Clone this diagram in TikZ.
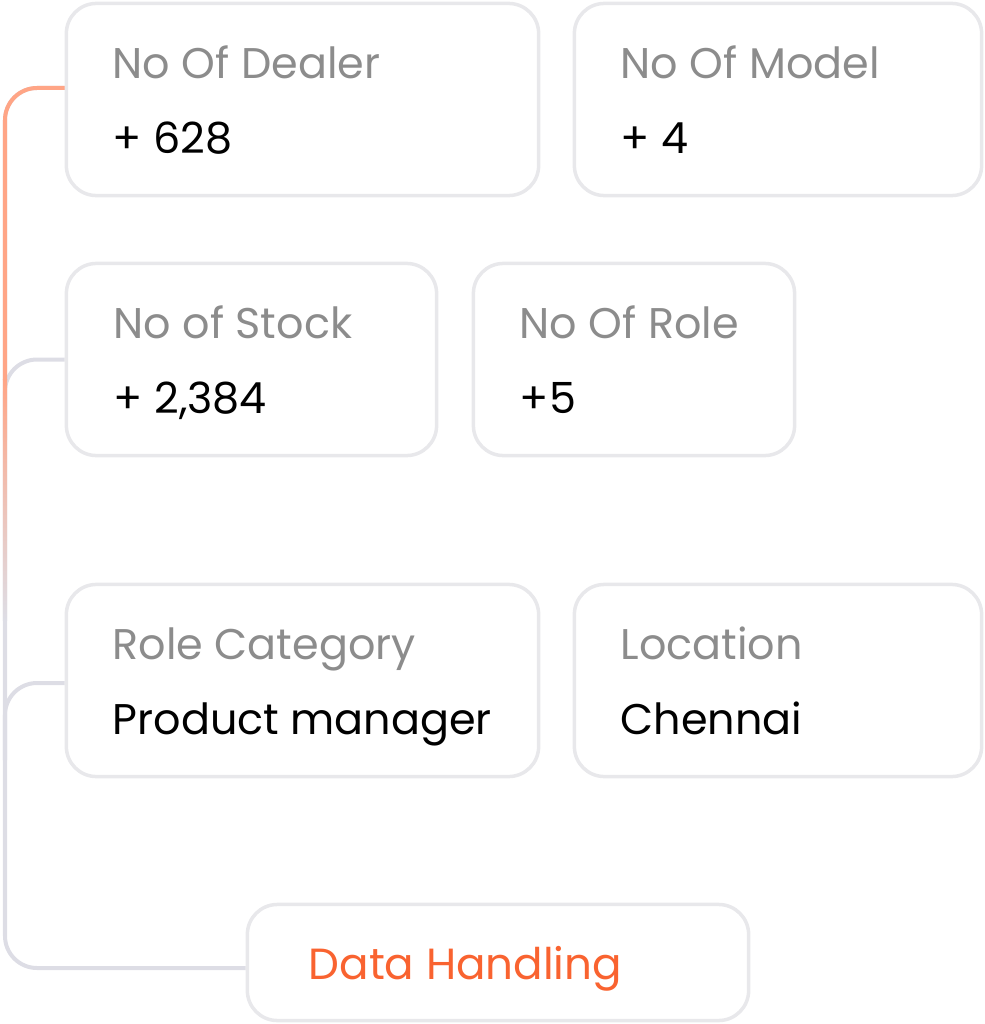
\documentclass[tikz,border=0pt]{standalone}
\usepackage{fontspec}
\setmainfont{Poppins}
\usetikzlibrary{positioning}
\usetikzlibrary{calc}

\definecolor{boxline}{HTML}{E8E8EB}
\definecolor{linkgrey}{HTML}{DDDDE5}
\definecolor{linkorange}{HTML}{FFA586}
\definecolor{labelgrey}{HTML}{8C8C8C}
\definecolor{handorange}{HTML}{F96330}

\tikzset{
	link/.style={line width=0.04cm, rounded corners=0.32cm},
}

\begin{document}
\begin{tikzpicture}[x=0.01cm, y=0.01cm]
		\useasboundingbox (0,0) rectangle (984,-1024);
		\begin{scope}[every node/.style={draw=boxline, line width=0.035cm, rounded corners=0.3cm, minimum height=1.92cm, inner sep=0pt}]
			\node[minimum width=4.72cm] (dealer) at (302.5,-99.5) {};
			\node[minimum width=4.07cm] (model) at (778,-99.5) {};
			\node[minimum width=3.70cm] (stock) at (251.5,-359.5) {};
			\node[minimum width=3.21cm] (role) at (634,-359.5) {};
			\node[minimum width=4.72cm] (category) at (302.5,-680.5) {};
			\node[minimum width=4.07cm] (location) at (778,-680.5) {};
			\node[minimum width=5.01cm, minimum height=1.16cm] (handling) at (498,-962.5) {};
		\end{scope}
		\begin{scope}[every node/.style={anchor=base west, inner sep=0pt, font=\fontsize{12.2}{14}\selectfont}]
			\node[text=labelgrey] (dealerlabel) at (112,-78) {No Of Dealer};
			\node (dealervalue) at (112,-153) {+ 628};
			\node[text=labelgrey] (modellabel) at (620,-78) {No Of Model};
			\node (modelvalue) at (620,-153) {+ 4};
			\node[text=labelgrey] (stocklabel) at (113,-338) {No of Stock};
			\node (stockvalue) at (113,-413) {+ 2,384};
			\node[text=labelgrey] (rolelabel) at (519,-338) {No Of Role};
			\node (rolevalue) at (519,-413) {+5};
			\node[text=labelgrey] (categorylabel) at (112,-659) {Role Category};
			\node (categoryvalue) at (112,-734) {Product manager};
			\node[text=labelgrey] (locationlabel) at (620,-659) {Location};
			\node (locationvalue) at (620,-734) {Chennai};
		\end{scope}
		\node[anchor=base west, inner sep=0pt, text=handorange, font=\fontsize{12.4}{15}\selectfont] (handlingtext) at (308,-979) {Data Handling};
		\draw[link, linkgrey] ([yshift=0.115cm]dealer.west) -| (5,-300) |- ([yshift=-0.055cm]handling.west);
		\draw[link, linkgrey] (stock.west) -| (5,-440);
		\draw[link, linkgrey] ([yshift=-0.025cm]category.west) -| (5,-760);
		\shade[top color=linkorange, bottom color=linkgrey] (3,-379) rectangle (7,-620);
		\draw[link, linkorange] ([yshift=0.115cm]dealer.west) -| (5,-380);
	\end{tikzpicture}
\end{document}
